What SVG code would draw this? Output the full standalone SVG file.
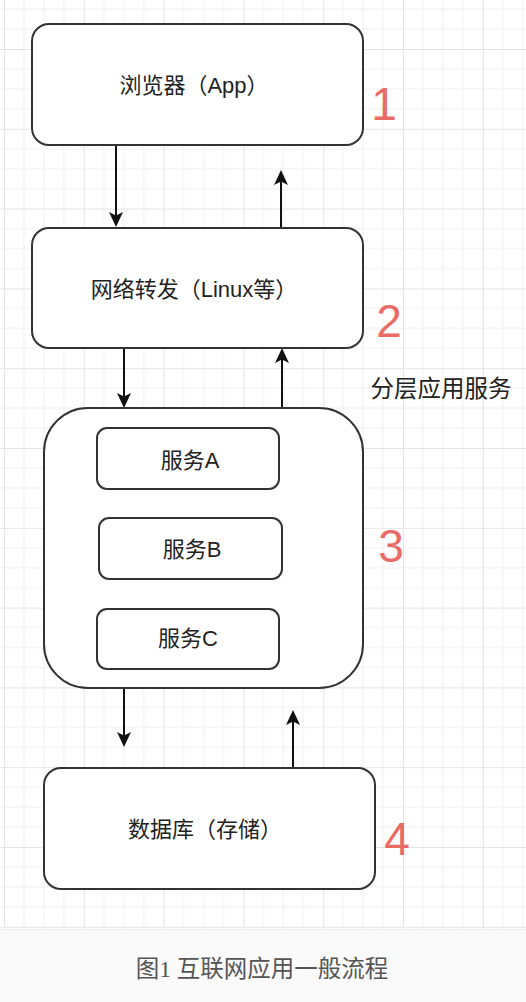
<svg xmlns="http://www.w3.org/2000/svg" width="526" height="1002" viewBox="0 0 526 1002">
<style>
.box{fill:#fff;stroke:#333;stroke-width:2}
.lbl{font-family:"Liberation Sans","Noto Sans CJK SC",sans-serif;font-size:22px;fill:#222;text-anchor:middle}
.num{font-family:"Liberation Sans",sans-serif;font-size:46px;fill:#ea6b66;text-anchor:middle}
.edge{stroke:#111;stroke-width:2;fill:none;marker-end:url(#arr)}
.cap{font-family:"Liberation Serif","Noto Sans CJK SC",serif;font-size:23.5px;fill:#555;text-anchor:middle}
</style>
<defs>
<pattern id="grid" patternUnits="userSpaceOnUse" x="4" y="49" width="79.8" height="79.8">
<path d="M19.95,0V79.8M39.9,0V79.8M59.85,0V79.8M0,19.95H79.8M0,39.9H79.8M0,59.85H79.8" stroke="#f0f0f0" stroke-width="1"/>
<path d="M0.5,0V79.8M0,0.5H79.8" stroke="#e4e4e4" stroke-width="1"/>
</pattern>
<marker id="arr" markerUnits="userSpaceOnUse" markerWidth="15" markerHeight="14" viewBox="0 0 15 14" refX="13" refY="7" orient="auto">
<path d="M0,0L15,7L0,14L3.5,7z" fill="#111"/>
</marker>
</defs>
<rect x="0" y="0" width="526" height="929" fill="#fff"/>
<rect x="0" y="0" width="526" height="929" fill="url(#grid)"/>
<rect x="0" y="929" width="526" height="73" fill="#fafafa"/>
<line x1="0" y1="929.5" x2="526" y2="929.5" stroke="#ececec"/>
<g id="connectors">
<path class="edge" d="M116,145V225"/>
<path class="edge" d="M281,228V172"/>
<path class="edge" d="M124,348V406"/>
<path class="edge" d="M282,408V350"/>
<path class="edge" d="M124,688V745"/>
<path class="edge" d="M293,768V712"/>
</g>
<g id="node1">
<rect class="box" x="32" y="24" width="331" height="121" rx="17"/>
<text class="lbl" x="194" y="93">浏览器（App）</text>
</g>
<g id="node2">
<rect class="box" x="32" y="228" width="331" height="120" rx="17"/>
<text class="lbl" x="194" y="297">网络转发（Linux等）</text>
</g>
<g id="node3">
<rect class="box" x="44" y="408" width="319" height="280" rx="44"/>
</g>
<g id="serviceA">
<rect class="box" x="97" y="428" width="182" height="61" rx="10"/>
<text class="lbl" x="190" y="468">服务A</text>
</g>
<g id="serviceB">
<rect class="box" x="99" y="518" width="183" height="61" rx="10"/>
<text class="lbl" x="192" y="557">服务B</text>
</g>
<g id="serviceC">
<rect class="box" x="97" y="609" width="182" height="60" rx="10"/>
<text class="lbl" x="188" y="646">服务C</text>
</g>
<g id="node4">
<rect class="box" x="44" y="768" width="331" height="121" rx="17"/>
<text class="lbl" x="205" y="837">数据库（存储）</text>
</g>
<g id="labels">
<text class="lbl" x="441" y="397" style="font-size:23.5px">分层应用服务</text>
<text class="num" x="384" y="120">1</text>
<text class="num" x="389" y="337">2</text>
<text class="num" x="391" y="562">3</text>
<text class="num" x="397" y="855">4</text>
</g>
<text class="cap" x="262" y="977">图1 互联网应用一般流程</text>
</svg>
